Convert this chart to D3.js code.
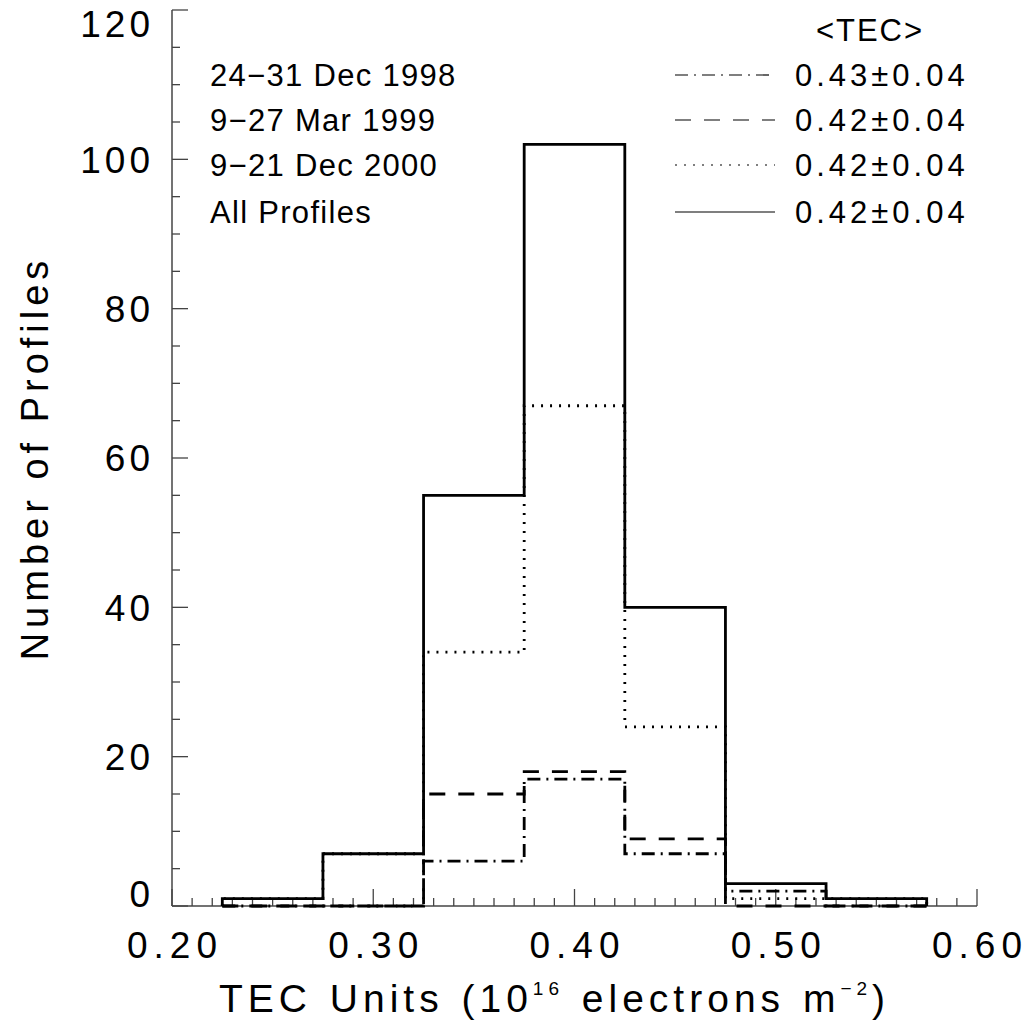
<!DOCTYPE html>
<html>
<head>
<meta charset="utf-8">
<script src="https://cdn.jsdelivr.net/npm/d3@7"></script>
<style>
  body { margin: 0; background: #fff; }
  svg { display: block; }
  text { font-family: "Liberation Sans", Arial, sans-serif; fill: #000; }
</style>
</head>
<body>
<div id="chart"></div>
<script>
// TEC histogram, bins of 0.05 centred on these values
const binCenters = [0.25, 0.30, 0.35, 0.40, 0.45, 0.50, 0.55];
const dec1998 = [0, 0, 6, 17, 7, 2, 0];
const mar1999 = [0, 0, 15, 18, 9, 0, 0];
const dec2000 = [1, 7, 34, 67, 24, 1, 1];
const allProfiles = [1, 7, 55, 102, 40, 3, 1];

const seriesNames = ["24\u221231 Dec 1998", "9\u221227 Mar 1999", "9\u221221 Dec 2000", "All Profiles"];
const seriesMeans = ["0.43", "0.42", "0.42", "0.42"];
const seriesErrors = ["0.04", "0.04", "0.04", "0.04"];
const xTicks = [0.20, 0.30, 0.40, 0.50, 0.60];
const yTicks = [0, 20, 40, 60, 80, 100, 120];

(function() {
  const width = 1027, height = 1031;
  const margin = { top: 10, right: 50, bottom: 125, left: 172 };
  const innerWidth = width - margin.left - margin.right;
  const innerHeight = height - margin.top - margin.bottom;
  const binWidth = 0.05;

  const svg = d3.select("#chart").append("svg")
    .attr("width", width)
    .attr("height", height);

  const g = svg.append("g")
    .attr("transform", `translate(${margin.left},${margin.top})`);

  const x = d3.scaleLinear().domain([0.2, 0.6]).range([0, innerWidth]);
  const y = d3.scaleLinear().domain([0, 120]).range([innerHeight, 0]);

  const axisColor = "#444";

  // x axis: ticks point up into the plot
  const xMinor = d3.range(0, 41).map(i => 0.2 + i * 0.01);
  g.append("line")
    .attr("x1", 0).attr("x2", innerWidth)
    .attr("y1", innerHeight).attr("y2", innerHeight)
    .attr("stroke", axisColor).attr("stroke-width", 1.5);
  g.selectAll(".xminor").data(xMinor).enter().append("line")
    .attr("x1", d => x(d)).attr("x2", d => x(d))
    .attr("y1", innerHeight)
    .attr("y2", (d, i) => innerHeight - (i % 10 === 0 ? 17 : 8))
    .attr("stroke", axisColor).attr("stroke-width", 1.3);
  g.selectAll(".xlab").data(xTicks).enter().append("text")
    .attr("x", d => x(d) + 3)
    .attr("y", innerHeight + 52)
    .attr("text-anchor", "middle")
    .attr("font-size", 37)
    .attr("letter-spacing", 6)
    .text(d => d3.format(".2f")(d));

  // y axis: ticks point right into the plot
  const yMinor = d3.range(0, 25).map(i => i * 5);
  g.append("line")
    .attr("x1", 0).attr("x2", 0)
    .attr("y1", 0).attr("y2", innerHeight)
    .attr("stroke", axisColor).attr("stroke-width", 1.5);
  g.selectAll(".yminor").data(yMinor).enter().append("line")
    .attr("x1", 0)
    .attr("x2", (d, i) => (i % 4 === 0 ? 16 : 8))
    .attr("y1", d => y(d)).attr("y2", d => y(d))
    .attr("stroke", axisColor).attr("stroke-width", 1.3);
  g.selectAll(".ylab").data(yTicks).enter().append("text")
    .attr("x", -18)
    .attr("y", d => Math.min(Math.max(y(d), 14), innerHeight - 12))
    .attr("dy", "0.36em")
    .attr("text-anchor", "end")
    .attr("font-size", 37)
    .attr("letter-spacing", 4)
    .text(d => d);

  // axis titles
  svg.append("text")
    .attr("transform", `translate(48,${margin.top + innerHeight / 2}) rotate(-90)`)
    .attr("text-anchor", "middle")
    .attr("font-size", 38)
    .attr("letter-spacing", 5)
    .text("Number of Profiles");

  const xt = svg.append("text")
    .attr("x", margin.left + innerWidth / 2 - 20)
    .attr("y", 1012)
    .attr("text-anchor", "middle")
    .attr("font-size", 39)
    .attr("letter-spacing", 5)
    .attr("word-spacing", 2);
  xt.append("tspan").text("TEC Units (10");
  xt.append("tspan").attr("font-size", 19).attr("dy", -17).text("16");
  xt.append("tspan").attr("dy", 17).text(" electrons m");
  xt.append("tspan").attr("font-size", 19).attr("dy", -17).text("\u22122");
  xt.append("tspan").attr("dy", 17).text(")");

  // histogram outlines
  const series = [
    { values: dec1998, dash: "13,6,2,6" },
    { values: mar1999, dash: "16,13" },
    { values: dec2000, dash: "2,7" },
    { values: allProfiles, dash: null }
  ];

  function stepPoints(values) {
    const pts = [[binCenters[0] - binWidth / 2, 0]];
    values.forEach((v, i) => {
      pts.push([binCenters[i] - binWidth / 2, v]);
      pts.push([binCenters[i] + binWidth / 2, v]);
    });
    pts.push([binCenters[binCenters.length - 1] + binWidth / 2, 0]);
    return pts;
  }

  const line = d3.line().x(d => x(d[0])).y(d => y(d[1]));

  g.selectAll(".hist").data(series).enter().append("path")
    .attr("class", "hist")
    .attr("d", d => line(stepPoints(d.values)))
    .attr("fill", "none")
    .attr("stroke", "#000")
    .attr("stroke-width", 2.8)
    .attr("stroke-dasharray", d => d.dash);

  // legend on the left: period names
  const rowY = [75, 120, 165, 212];
  svg.selectAll(".lname").data(seriesNames).enter().append("text")
    .attr("x", 210)
    .attr("y", (d, i) => rowY[i])
    .attr("dy", "0.36em")
    .attr("font-size", 31)
    .attr("letter-spacing", 1.3)
    .text(d => d);

  // legend on the right: line samples and means
  svg.append("text")
    .attr("x", 870).attr("y", 30)
    .attr("dy", "0.36em")
    .attr("text-anchor", "middle")
    .attr("font-size", 31)
    .attr("letter-spacing", 2)
    .text("<TEC>");

  svg.selectAll(".lline").data(series).enter().append("line")
    .attr("x1", 675).attr("x2", 775)
    .attr("y1", (d, i) => rowY[i]).attr("y2", (d, i) => rowY[i])
    .attr("stroke", "#000")
    .attr("stroke-width", 1.2)
    .attr("stroke-dasharray", d => d.dash);

  svg.selectAll(".lmean").data(seriesMeans).enter().append("text")
    .attr("x", 795)
    .attr("y", (d, i) => rowY[i])
    .attr("dy", "0.36em")
    .attr("font-size", 31)
    .attr("letter-spacing", 4)
    .text((d, i) => `${d}\u00b1${seriesErrors[i]}`);
})();
</script>
</body>
</html>
